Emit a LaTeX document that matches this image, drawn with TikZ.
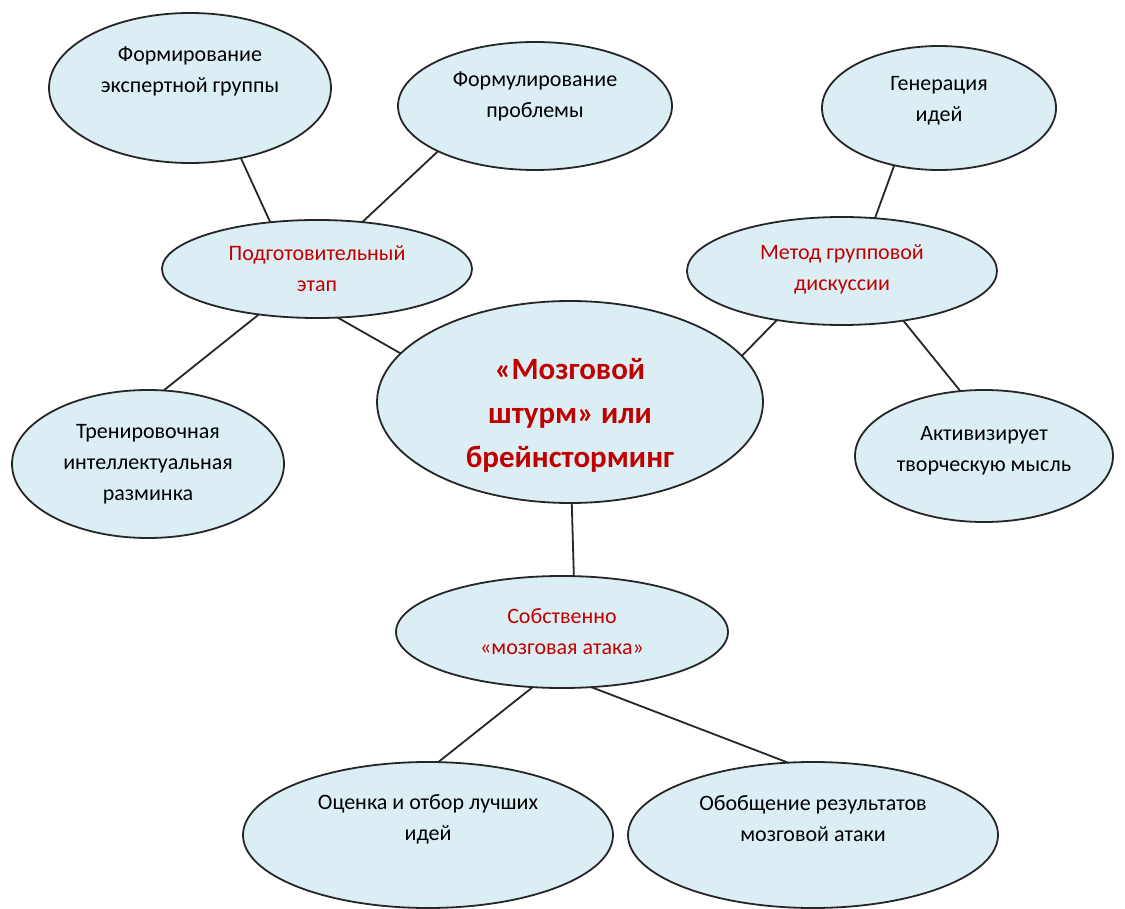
\documentclass[tikz,border=0pt]{standalone}
\usepackage{fontspec}
\setmainfont{Carlito}
\usetikzlibrary{shapes.geometric}
\definecolor{fillblue}{HTML}{DAEEF3}
\definecolor{redtext}{HTML}{C00000}
\definecolor{edgegray}{HTML}{262626}
\tikzset{
  bubble/.style={ellipse, draw=edgegray, line width=1.8pt, fill=fillblue, inner sep=0pt, outer sep=0pt},
  smalltext/.style={align=center, inner sep=0pt, font=\fontsize{22}{31}\selectfont, text=black},
  redsmall/.style={smalltext, text=redtext},
  bigtext/.style={align=center, inner sep=0pt, font=\fontsize{31}{44}\selectfont\bfseries, text=redtext},
  link/.style={draw=edgegray, line width=1.8pt}
}
\begin{document}
\begin{tikzpicture}[x=1pt, y=-1pt]
\useasboundingbox (0,0) rectangle (1125,909);
% ellipses
\node[bubble, minimum width=282pt, minimum height=150pt] (expert) at (190,88) {};
\node[bubble, minimum width=274pt, minimum height=128pt] (formul) at (535,106) {};
\node[bubble, minimum width=234pt, minimum height=124pt] (gener) at (939,108) {};
\node[bubble, minimum width=310pt, minimum height=98pt] (podg) at (317,269) {};
\node[bubble, minimum width=310pt, minimum height=108pt] (metod) at (842,271) {};
\node[bubble, minimum width=386pt, minimum height=202pt] (center) at (570,402) {};
\node[bubble, minimum width=272pt, minimum height=148pt] (trening) at (148,464) {};
\node[bubble, minimum width=258pt, minimum height=132pt] (aktiv) at (984,456) {};
\node[bubble, minimum width=332pt, minimum height=112pt] (sobst) at (562,632) {};
\node[bubble, minimum width=370pt, minimum height=146pt] (ocenka) at (428,835) {};
\node[bubble, minimum width=370pt, minimum height=146pt] (obobsh) at (813,835) {};
% texts
\node[smalltext] (t-expert) at ([yshift=17pt]expert.center) {Формирование\\экспертной группы};
\node[smalltext] (t-formul) at ([yshift=10pt]formul.center) {Формулирование\\проблемы};
\node[smalltext] (t-gener) at ([yshift=7pt]gener.center) {Генерация\\идей};
\node[redsmall] (t-podg) at (podg.center) {Подготовительный\\этап};
\node[redsmall] (t-metod) at ([yshift=2pt]metod.center) {Метод групповой\\дискуссии};
\node[bigtext] (t-center) at ([yshift=-13pt]center.center) {«Мозговой\\штурм» или\\брейнсторминг};
\node[smalltext] (t-trening) at (trening.center) {Тренировочная\\интеллектуальная\\разминка};
\node[smalltext] (t-aktiv) at ([yshift=5pt]aktiv.center) {Активизирует\\творческую мысль};
\node[redsmall] (t-sobst) at (sobst.center) {Собственно\\«мозговая атака»};
\node[smalltext] (t-ocenka) at ([yshift=16pt]ocenka.center) {Оценка и отбор лучших\\идей};
\node[smalltext] (t-obobsh) at ([yshift=16pt]obobsh.center) {Обобщение результатов\\мозговой атаки};
% connectors
\draw[link] (expert.306) -- (podg.135.5);
\draw[link] (formul.205.6) -- (podg.46.7);
\draw[link] (gener.232.5) -- (metod.58.6);
\draw[link] (podg.218.7) -- (trening.78.5);
\draw[link] (podg.293) -- (center.164.5);
\draw[link] (metod.217.6) -- (center.15.7);
\draw[link] (metod.321.5) -- (aktiv.110);
\draw[link] (center.271.7) -- (sobst.78.7);
\draw[link] (sobst.242.6) -- (ocenka.82.2);
\draw[link] (sobst.298.2) -- (obobsh.109.6);
\end{tikzpicture}
\end{document}
